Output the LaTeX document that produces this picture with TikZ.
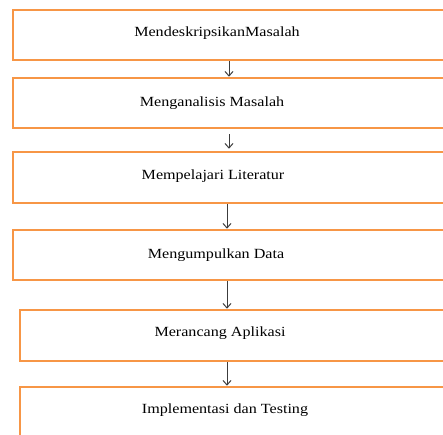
\documentclass[tikz,border=0pt]{standalone}
\usepackage{fontspec}
\setmainfont{Liberation Serif}
\usetikzlibrary{arrows.meta}
\definecolor{boxorange}{RGB}{247,150,70}
\definecolor{arrowgray}{RGB}{60,60,60}
\begin{document}
\begin{tikzpicture}[x=1pt,y=-1pt,
  stepbox/.style={draw=boxorange, line width=2.6pt, rectangle, inner sep=0pt, fill=white},
  steptext/.style={font=\fontsize{14}{16}\selectfont, inner sep=0pt, text=black},
  conn/.style={draw=arrowgray, line width=1pt, -{Straight Barb[length=4.5pt,width=8pt]}}]
\fill[white] (0,0) rectangle (443,434);
\useasboundingbox (0,0) rectangle (443,434);
\clip (0,0) rectangle (443,434);
\node[stepbox, minimum width=450pt, minimum height=50pt] (b1) at (238,35) {};
\node[stepbox, minimum width=450pt, minimum height=50pt] (b2) at (238,103) {};
\node[stepbox, minimum width=450pt, minimum height=51pt] (b3) at (238,177.5) {};
\node[stepbox, minimum width=450pt, minimum height=50pt] (b4) at (238,255) {};
\node[stepbox, minimum width=450pt, minimum height=51pt] (b5) at (245,335.5) {};
\node[stepbox, minimum width=450pt, minimum height=60pt] (b6) at (245,417) {};
\node[steptext] (t1) at (217,33) {\scalebox{1.15}[1]{MendeskripsikanMasalah}};
\node[steptext] (t2) at (212,103) {\scalebox{1.15}[1]{Menganalisis Masalah}};
\node[steptext] (t3) at (213,176) {\scalebox{1.15}[1]{Mempelajari Literatur}};
\node[steptext] (t4) at (216,255) {\scalebox{1.15}[1]{Mengumpulkan Data}};
\node[steptext] (t5) at (220,333) {\scalebox{1.15}[1]{Merancang Aplikasi}};
\node[steptext] (t6) at (225,410) {\scalebox{1.15}[1]{Implementasi dan Testing}};
\coordinate (ax1) at (229,0);
\coordinate (ax2) at (227,0);
\draw[conn] (b1.south -| ax1) -- (b2.north -| ax1);
\draw[conn, shorten <=5pt, shorten >=2pt] (b2.south -| ax1) -- (b3.north -| ax1);
\draw[conn] (b3.south -| ax2) -- (b4.north -| ax2);
\draw[conn] (b4.south -| ax2) -- (b5.north -| ax2);
\draw[conn] (b5.south -| ax2) -- (b6.north -| ax2);
\end{tikzpicture}
\end{document}
